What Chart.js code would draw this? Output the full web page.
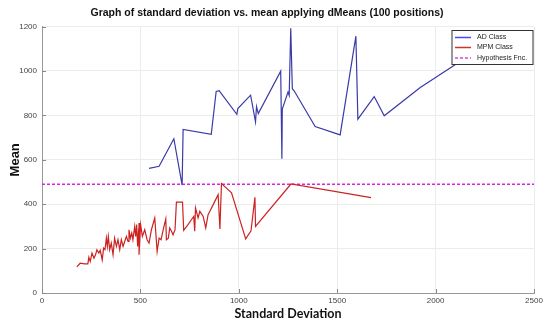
<!DOCTYPE html>
<html>
<head>
<meta charset="utf-8">
<script src="https://cdn.jsdelivr.net/npm/chart.js@4.4.1/dist/chart.umd.min.js"></script>
<style>
  html, body { margin: 0; padding: 0; background: #fff; }
  #wrap { width: 550px; height: 322px; }
</style>
</head>
<body>
<div id="wrap"><canvas id="chart"></canvas></div>
<script>
// AD Class
const adX = [544, 595, 670, 712, 717, 860, 885, 900, 990, 995, 1060, 1085, 1090, 1099, 1213, 1219, 1221,
  1250, 1256, 1264, 1272, 1281, 1388, 1515, 1595, 1605, 1688, 1739, 1922, 2105, 2250];
const adY = [561, 571, 695, 486, 737, 715, 908, 911, 805, 831, 891, 771, 840, 808, 999, 605, 828,
  905, 890, 1193, 920, 911, 750, 712, 1157, 783, 885, 798, 926, 1032, 1116];

// MPM Class
const mpmX = [177, 194, 216, 233, 238, 245, 254, 264, 272, 279, 289, 296, 306, 313, 320, 327, 332, 337,
  344, 352, 361, 369, 378, 386, 395, 403, 412, 420, 429, 437, 442, 449, 456, 462, 471, 476, 481, 486,
  491, 496, 493, 501, 510, 522, 534, 544, 556, 573, 585, 595, 605, 618, 629, 632, 642, 649, 658, 666,
  676, 683, 708, 714, 720, 742, 759, 771, 776, 780, 793, 802, 819, 832, 844, 853, 870, 895, 904, 912,
  940, 963, 1035, 1062, 1082, 1085, 1265, 1672];
const mpmY = [118, 134, 131, 131, 161, 142, 180, 157, 172, 195, 180, 192, 149, 202, 195, 247, 210, 255,
  195, 225, 172, 247, 210, 240, 195, 240, 210, 232, 255, 232, 285, 247, 270, 240, 300, 255, 308, 210,
  285, 315, 172, 308, 255, 285, 240, 225, 285, 338, 187, 247, 240, 293, 333, 240, 247, 293, 278, 262,
  285, 409, 409, 409, 282, 308, 330, 345, 278, 383, 338, 368, 345, 293, 353, 368, 398, 443, 288, 493,
  470, 451, 244, 280, 431, 300, 491, 430];

// Hypothesis Fnc.
const hypX = [0, 2500];
const hypY = [490, 490];

function toPoints(xs, ys) {
  return xs.map((x, i) => ({ x: x, y: ys[i] }));
}

// legend drawn inside the plot, on top of the lines
const boxLegend = {
  id: "boxLegend",
  afterDatasetsDraw(chart) {
    const ctx = chart.ctx;
    const left = 452, top = 30.5, w = 81, h = 34;
    ctx.save();
    ctx.fillStyle = "#fff";
    ctx.fillRect(left, top, w, h);
    ctx.strokeStyle = "#333";
    ctx.lineWidth = 1;
    ctx.strokeRect(left, top, w, h);
    const rows = [37.5, 47.5, 58];
    chart.data.datasets.forEach((ds, i) => {
      ctx.strokeStyle = ds.legendColor;
      ctx.lineWidth = 1.5;
      ctx.setLineDash(ds.borderDash || []);
      ctx.beginPath();
      ctx.moveTo(455, rows[i]);
      ctx.lineTo(471, rows[i]);
      ctx.stroke();
      ctx.setLineDash([]);
      ctx.fillStyle = "#222";
      ctx.font = "7px 'Liberation Sans', Arial, sans-serif";
      ctx.textBaseline = "middle";
      ctx.fillText(ds.label, 477, rows[i]);
    });
    ctx.restore();
  },
  afterDraw(chart) {
    // small inward tick marks like the original
    const ctx = chart.ctx;
    const a = chart.chartArea;
    ctx.save();
    ctx.strokeStyle = "#888";
    ctx.lineWidth = 1;
    chart.scales.y.ticks.forEach((t) => {
      const py = Math.round(chart.scales.y.getPixelForValue(t.value)) + 0.5;
      ctx.beginPath();
      ctx.moveTo(a.left, py);
      ctx.lineTo(a.left + 4, py);
      ctx.stroke();
    });
    chart.scales.x.ticks.forEach((t) => {
      const px = Math.round(chart.scales.x.getPixelForValue(t.value)) + 0.5;
      ctx.beginPath();
      ctx.moveTo(px, a.bottom);
      ctx.lineTo(px, a.bottom - 4);
      ctx.stroke();
    });
    ctx.restore();
  },
};

const ctx = document.getElementById("chart").getContext("2d");
const chart = new Chart(ctx, {
  type: "scatter",
  data: {
    datasets: [
      {
        label: "AD Class",
        data: toPoints(adX, adY),
        showLine: true,
        borderColor: "#3a3aa8",
        legendColor: "#4a4af0",
        borderWidth: 1.2,
        pointRadius: 0,
        tension: 0,
      },
      {
        label: "MPM Class",
        data: toPoints(mpmX, mpmY),
        showLine: true,
        borderColor: "#cc2222",
        legendColor: "#d03030",
        borderWidth: 1.2,
        pointRadius: 0,
        tension: 0,
      },
      {
        label: "Hypothesis Fnc.",
        data: toPoints(hypX, hypY),
        showLine: true,
        borderColor: "#dd22dd",
        legendColor: "#dd44dd",
        borderDash: [3, 2],
        borderWidth: 1.6,
        pointRadius: 0,
      },
    ],
  },
  options: {
    responsive: true,
    maintainAspectRatio: false,
    animation: false,
    layout: { padding: { top: 0, right: 16, bottom: 0, left: 0 } },
    plugins: {
      legend: { display: false },
      tooltip: { enabled: false },
      title: {
        display: true,
        text: "Graph of standard deviation vs. mean applying dMeans (100 positions)",
        color: "#111",
        font: { family: "'Liberation Sans', Arial, sans-serif", size: 10.5, weight: "bold" },
        padding: { top: 7, bottom: 7 },
      },
    },
    scales: {
      x: {
        type: "linear",
        min: 0,
        max: 2500,
        afterFit: (s) => { s.height = 29; },
        ticks: {
          stepSize: 500,
          padding: 3,
          color: "#444",
          font: { family: "'Liberation Sans', Arial, sans-serif", size: 8 },
          callback: (v) => String(v),
        },
        grid: { color: "#ececec", drawTicks: false },
        border: { color: "#999" },
        title: {
          display: true,
          text: "Standard Deviation",
          color: "#111",
          font: { family: "Lato, sans-serif", size: 12.5, weight: "bold" },
          padding: { top: 0, bottom: 1 },
        },
      },
      y: {
        min: 0,
        max: 1200,
        afterFit: (s) => { s.width = 42; },
        ticks: {
          stepSize: 200,
          padding: 5,
          color: "#444",
          font: { family: "'Liberation Sans', Arial, sans-serif", size: 8 },
          callback: (v) => String(v),
        },
        grid: { color: "#ececec", drawTicks: false },
        border: { color: "#999" },
        title: {
          display: true,
          text: "Mean",
          color: "#111",
          font: { family: "'Liberation Sans', Arial, sans-serif", size: 13, weight: "bold" },
          padding: { top: 8, bottom: 0 },
        },
      },
    },
  },
  plugins: [boxLegend],
});
</script>
</body>
</html>
